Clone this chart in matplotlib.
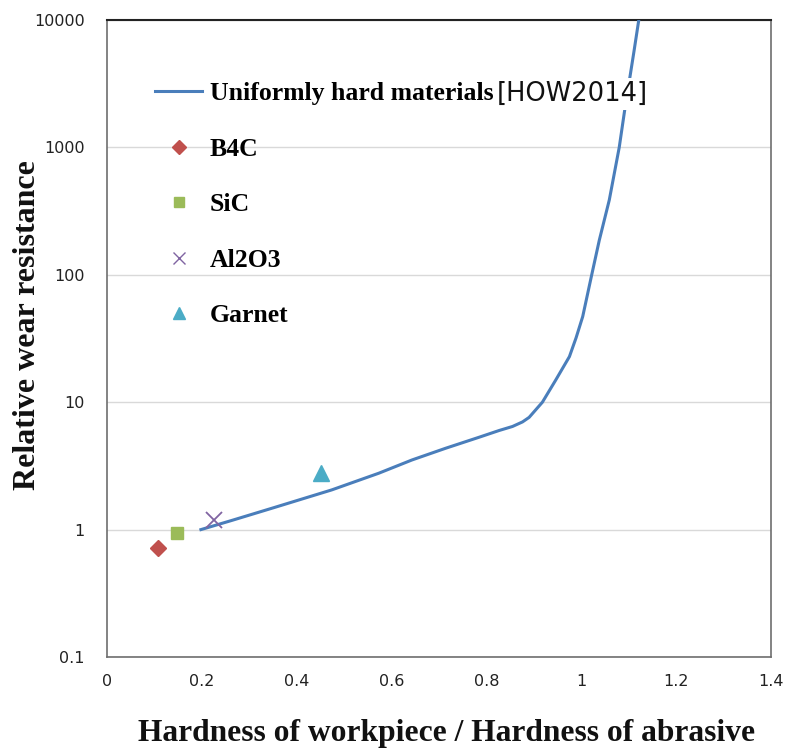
import matplotlib
matplotlib.use("Agg")
import matplotlib.pyplot as plt
from matplotlib.lines import Line2D

# Uniformly hard materials curve [HOW2014]
curve_x = [0.198, 0.263, 0.35, 0.474, 0.573, 0.643, 0.714, 0.784, 0.827, 0.855,
           0.876, 0.890, 0.918, 0.946, 0.975, 0.989, 1.003, 1.022, 1.038, 1.059,
           1.080, 1.091, 1.111, 1.121, 1.126]
curve_y = [1.0, 1.18, 1.48, 2.05, 2.77, 3.52, 4.35, 5.3, 6.0, 6.45,
           7.0, 7.6, 10.0, 14.9, 22.8, 32, 47, 100, 187, 386,
           1000, 1905, 5640, 9874, 12000]

# Abrasive materials
materials = ["B4C", "SiC", "Al2O3", "Garnet"]
mat_x = [0.108, 0.147, 0.226, 0.451]
mat_y = [0.72, 0.935, 1.2, 2.8]
mat_marker = ["D", "s", "x", "^"]
mat_color = ["#C0504D", "#9BBB59", "#8064A2", "#4BACC6"]
mat_size = [8, 9, 11, 11]

y_ticks = [0.1, 1, 10, 100, 1000, 10000]
y_tick_labels = ["0.1", "1", "10", "100", "1000", "10000"]
x_ticks = [0, 0.2, 0.4, 0.6, 0.8, 1.0, 1.2, 1.4]
x_tick_labels = ["0", "0.2", "0.4", "0.6", "0.8", "1", "1.2", "1.4"]

fig = plt.figure(figsize=(7.95, 7.52), dpi=100)
ax = fig.add_axes([107/795, 1 - 657/752, (771 - 107)/795, (657 - 20)/752])

ax.set_yscale("log")
ax.set_xlim(0, 1.4)
ax.set_ylim(0.1, 10000)

ax.plot(curve_x, curve_y, color="#4A7EBB", lw=2.2, zorder=3, clip_on=True,
        solid_joinstyle="round")

for xv, yv, m, c, s in zip(mat_x, mat_y, mat_marker, mat_color, mat_size):
    if m == "x":
        ax.plot(xv, yv, marker=m, color=c, ms=s, mew=1.3, ls="none", zorder=4)
    else:
        ax.plot(xv, yv, marker=m, color=c, ms=s, mec=c, ls="none", zorder=4)

ax.set_yticks(y_ticks)
ax.set_yticklabels(y_tick_labels)
ax.set_xticks(x_ticks)
ax.set_xticklabels(x_tick_labels)
ax.minorticks_off()
ax.tick_params(axis="both", length=0, labelsize=11.5, colors="#222222")
ax.tick_params(axis="y", pad=16)
ax.tick_params(axis="x", pad=12)
for lab in ax.get_yticklabels() + ax.get_xticklabels():
    lab.set_family("DejaVu Sans")

ax.yaxis.grid(True, color="#D9D9D9", lw=1.0)
ax.xaxis.grid(False)
ax.set_axisbelow(True)
for side in ["left", "right", "bottom"]:
    ax.spines[side].set_color("#6E6E6E")
    ax.spines[side].set_linewidth(1.2)
ax.spines["top"].set_color("#222222")
ax.spines["top"].set_linewidth(1.5)

# Legend
handles = [Line2D([0], [0], color="#4A7EBB", lw=2.2)]
labels = ["Uniformly hard materials"]
for m, c, name in zip(mat_marker, mat_color, materials):
    if m == "x":
        handles.append(Line2D([0], [0], marker=m, color=c, ms=9, mew=1.0, ls="none"))
    else:
        handles.append(Line2D([0], [0], marker=m, color=c, ms=7 if m != "^" else 9,
                              mec=c, ls="none"))
    labels.append(name)

leg = ax.legend(handles, labels, loc="upper left", bbox_to_anchor=(0.072, 0.902),
                frameon=False, handlelength=1.85, handletextpad=0.3,
                labelspacing=1.26, borderaxespad=0, borderpad=0,
                prop={"family": "Liberation Serif", "weight": "bold", "size": 18.5})
leg.set_zorder(5)

fig.canvas.draw()
renderer = fig.canvas.get_renderer()
first = leg.get_texts()[0].get_window_extent(renderer)
inv = fig.transFigure.inverted()
x_end, y_mid = inv.transform((first.x1 + 3, (first.y0 + first.y1) / 2))
fig.text(x_end, y_mid, "[HOW2014]", ha="left", va="center",
         family="DejaVu Sans", fontsize=18.5, color="#111111", zorder=6,
         bbox=dict(boxstyle="square,pad=0.12", fc="white", ec="none"))

fig.text(447/795, 1 - 733/752, "Hardness of workpiece / Hardness of abrasive",
         ha="center", va="center", family="Liberation Serif", weight="bold",
         fontsize=22.7, color="#111111")
fig.text(28/795, 1 - 325/752, "Relative wear resistance", rotation=90,
         ha="center", va="center", family="Liberation Serif", weight="bold",
         fontsize=23, color="#111111")

fig.savefig("out.png", dpi=100)
